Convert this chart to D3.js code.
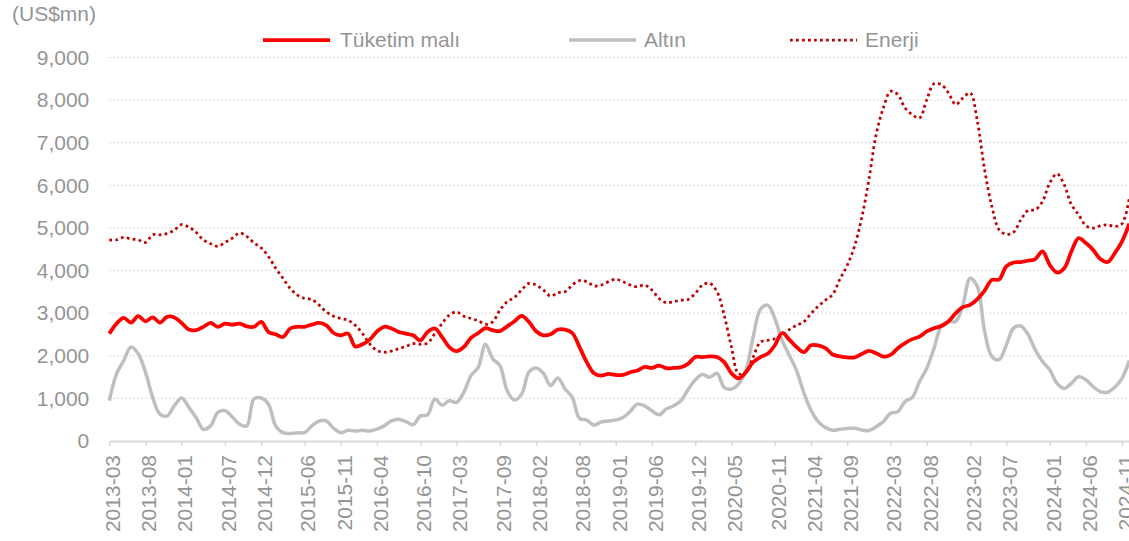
<!DOCTYPE html>
<html>
<head>
<meta charset="utf-8">
<script src="https://cdn.jsdelivr.net/npm/d3@7"></script>
<style>
  body { margin: 0; background: #fff; }
  svg { display: block; font-family: "Liberation Sans", Arial, sans-serif; }
</style>
</head>
<body>
<div id="chart"></div>
<script>
// monthly values, 2013-03 .. 2024-12 (US$mn)
const tuketim = [
  2520, 2755, 2890, 2780, 2930, 2810, 2900, 2780, 2915, 2900,
  2770, 2615, 2600, 2680, 2770, 2680, 2755, 2730, 2755, 2690,
  2680, 2795, 2560, 2505, 2440, 2640, 2680, 2680, 2730, 2770,
  2715, 2535, 2480, 2520, 2220, 2270, 2380, 2570, 2680, 2640,
  2560, 2520, 2480, 2360, 2560, 2640, 2440, 2205, 2110, 2205,
  2420, 2535, 2650, 2600, 2580, 2690, 2810, 2935, 2795, 2575,
  2480, 2505, 2615, 2615, 2535, 2205, 1850, 1590, 1535, 1575,
  1550, 1550, 1615, 1655, 1740, 1715, 1770, 1710, 1715, 1730,
  1810, 1970, 1970, 1985, 1970, 1850, 1590, 1470, 1615, 1850,
  1970, 2045, 2245, 2535, 2380, 2205, 2085, 2245, 2245, 2180,
  2030, 1985, 1960, 1960, 2040, 2115, 2060, 1980, 2020, 2175,
  2295, 2390, 2450, 2570, 2645, 2700, 2805, 3000, 3140, 3195,
  3330, 3530, 3780, 3790, 4100, 4190, 4200, 4230, 4270, 4450,
  4135, 3955, 4055, 4450, 4760, 4645, 4485, 4270, 4200, 4410,
  4685, 5100
];
const altin = [
  945, 1575, 1890, 2205, 2050, 1615, 1025, 630, 590, 830,
  1010, 790, 550, 275, 355, 670, 710, 565, 395, 355,
  985, 1010, 865, 355, 195, 175, 195, 195, 355, 470,
  470, 300, 195, 250, 235, 250, 235, 280, 355, 470,
  510, 455, 380, 590, 615, 985, 840, 945, 905, 1140,
  1535, 1730, 2270, 1930, 1770, 1180, 960, 1100, 1615, 1715,
  1590, 1300, 1480, 1220, 1025, 530, 490, 370, 450, 470,
  490, 550, 695, 865, 825, 710, 615, 750, 825, 945,
  1205, 1435, 1560, 1495, 1590, 1260, 1220, 1340, 1655, 2440,
  3085, 3190, 2875, 2360, 2010, 1655, 1140, 725, 455, 315,
  250, 275, 295, 300, 260, 245, 335, 455, 650, 690,
  925, 1025, 1395, 1705, 2175, 2685, 2805, 2805, 3195, 3820,
  3625, 2570, 1980, 1910, 2250, 2650, 2700, 2500, 2140, 1865,
  1670, 1355, 1235, 1355, 1510, 1435, 1275, 1160, 1145, 1260,
  1470, 1885
];
const enerji = [
  4720, 4720, 4780, 4740, 4720, 4660, 4840, 4840, 4870, 4950,
  5080, 5020, 4900, 4720, 4630, 4570, 4660, 4760, 4880, 4800,
  4650, 4530, 4330, 4055, 3820, 3580, 3425, 3345, 3320, 3190,
  3030, 2930, 2875, 2835, 2715, 2520, 2280, 2125, 2085, 2110,
  2165, 2220, 2285, 2270, 2300, 2520, 2755, 2955, 3030, 2930,
  2875, 2820, 2740, 2795, 3070, 3270, 3370, 3545, 3700, 3660,
  3545, 3400, 3480, 3505, 3660, 3765, 3740, 3640, 3660, 3740,
  3795, 3740, 3660, 3620, 3660, 3545, 3345, 3245, 3270, 3305,
  3320, 3465, 3660, 3700, 3505, 2950, 2205, 1575, 1615, 1970,
  2320, 2360, 2400, 2480, 2615, 2715, 2795, 2990, 3165, 3305,
  3440, 3800, 4120, 4560, 5230, 6130, 7190, 7815, 8205, 8130,
  7815, 7660, 7580, 8010, 8385, 8365, 8170, 7895, 8050, 8170,
  7500, 6365, 5505, 4960, 4850, 4900, 5190, 5410, 5425, 5620,
  6055, 6270, 6015, 5545, 5310, 5050, 4995, 5050, 5075, 5035,
  5100, 5700
];
const tickLabels = [
  "2013-03", "2013-08", "2014-01", "2014-07", "2014-12", "2015-06", "2015-11",
  "2016-04", "2016-10", "2017-03", "2017-09", "2018-02", "2018-08", "2019-01",
  "2019-06", "2019-12", "2020-05", "2020-11", "2021-04", "2021-09", "2022-03",
  "2022-08", "2023-02", "2023-07", "2024-01", "2024-06", "2024-11"
];
const yTicks = [0, 1000, 2000, 3000, 4000, 5000, 6000, 7000, 8000, 9000];

const fmtMonth = d3.timeFormat("%Y-%m");
const months = d3.timeMonth.range(new Date(2013, 2, 1), new Date(2025, 0, 1)).map(fmtMonth);

const layout = {
  width: 1129,
  height: 541,
  left: 109.3,
  right: 1129.3,
  top: 57.5,
  bottom: 441
};
const textColor = "#959595";
const font = 21;

const svg = d3.select("#chart").append("svg")
  .attr("width", layout.width)
  .attr("height", layout.height);

const x = d3.scalePoint().domain(months).range([layout.left, layout.right]);
const y = d3.scaleLinear().domain([0, 9000]).range([layout.bottom, layout.top]);

// dotted gridlines
svg.append("g")
  .selectAll("line")
  .data(yTicks.filter(d => d > 0))
  .join("line")
  .attr("x1", layout.left)
  .attr("x2", layout.width)
  .attr("y1", d => y(d))
  .attr("y2", d => y(d))
  .attr("stroke", "#d9d9d9")
  .attr("stroke-width", 1)
  .attr("stroke-dasharray", "2 2");

// y axis labels
let yAxis = svg.append("g")
  .attr("transform", `translate(${layout.left},0)`)
  .call(d3.axisLeft(y).tickValues(yTicks).tickSize(0).tickPadding(20).tickFormat(d3.format(",")));
yAxis.select(".domain").remove();
yAxis.selectAll("text")
  .attr("fill", textColor)
  .attr("font-size", font)
  .attr("font-family", "Liberation Sans, Arial, sans-serif");

// x axis
let xAxis = svg.append("g")
  .attr("transform", `translate(0,${layout.bottom})`)
  .call(d3.axisBottom(x).tickValues(tickLabels).tickSize(5).tickSizeOuter(0));
xAxis.select(".domain").attr("stroke", "#d9d9d9").attr("stroke-width", 2);
xAxis.selectAll(".tick line").attr("stroke", "#d9d9d9").attr("stroke-width", 1.5);
xAxis.selectAll("text")
  .attr("fill", textColor)
  .attr("font-size", font)
  .attr("font-family", "Liberation Sans, Arial, sans-serif")
  .attr("transform", "rotate(-90)")
  .attr("x", -14)
  .attr("y", 3)
  .attr("dy", "0.35em")
  .style("text-anchor", "end");

// unit title
svg.append("text")
  .attr("x", 12)
  .attr("y", 21)
  .attr("font-size", font)
  .attr("fill", textColor)
  .text("(US$mn)");

const line = d3.line()
  .x((d, i) => x(months[i]))
  .y(d => y(d))
  .curve(d3.curveCatmullRom.alpha(0.5));

const series = [
  { name: "Altın", values: altin, color: "#bfbfbf", width: 3.5, dash: null, lx: 569, tx: 644 },
  { name: "Enerji", values: enerji, color: "#c00000", width: 2.75, dash: "2.75 3.25", lx: 790, tx: 865 },
  { name: "Tüketim malı", values: tuketim, color: "#ff0000", width: 3.75, dash: null, lx: 263, tx: 340 }
];

series.forEach(s => {
  svg.append("path")
    .datum(s.values)
    .attr("fill", "none")
    .attr("stroke", s.color)
    .attr("stroke-width", s.width)
    .attr("stroke-dasharray", s.dash)
    .attr("stroke-linejoin", "round")
    .attr("d", line);
});

// legend
const legendOrder = [series[2], series[0], series[1]];
legendOrder.forEach(s => {
  svg.append("line")
    .attr("x1", s.lx)
    .attr("x2", s.lx + 67)
    .attr("y1", 40)
    .attr("y2", 40)
    .attr("stroke", s.color)
    .attr("stroke-width", s.width)
    .attr("stroke-dasharray", s.dash);
  svg.append("text")
    .attr("x", s.tx)
    .attr("y", 47)
    .attr("font-size", font)
    .attr("fill", textColor)
    .text(s.name);
});
</script>
</body>
</html>
